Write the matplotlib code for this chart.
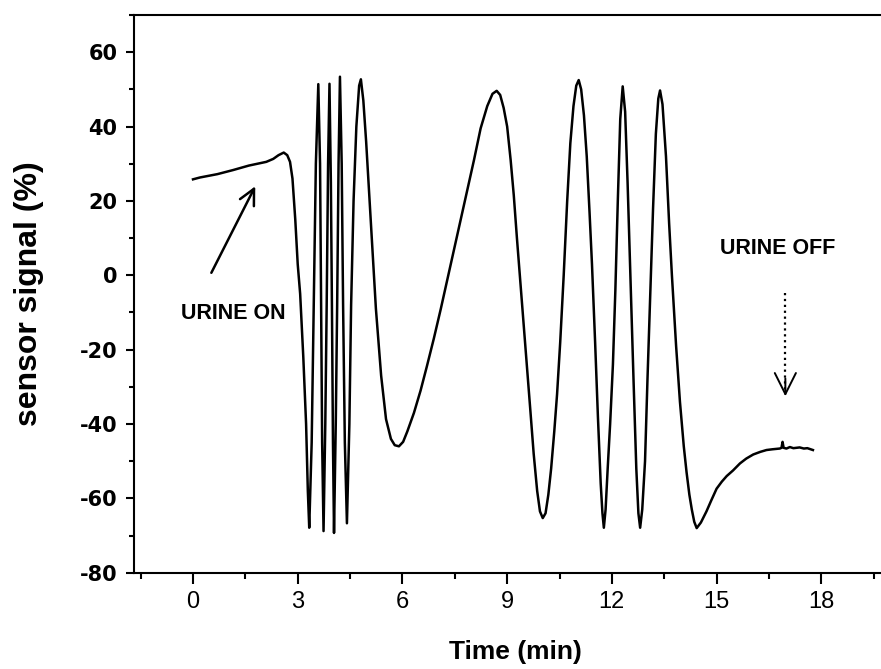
import matplotlib
matplotlib.use('Agg')
import matplotlib.pyplot as plt
from matplotlib.ticker import MultipleLocator

# sensor response (time in min, signal in %)
t = [0.0, 0.2, 0.7, 1.15, 1.6, 2.1, 2.3, 2.45, 2.6, 2.7, 2.78, 2.85, 2.93, 3.0, 3.07, 3.16, 3.24, 3.29, 3.33,
     3.40, 3.46, 3.52, 3.59, 3.64, 3.67, 3.70, 3.74, 3.79, 3.83, 3.87, 3.91, 3.95, 3.98, 4.01, 4.04,
     4.09, 4.13, 4.17, 4.21, 4.26, 4.30, 4.35, 4.41, 4.48, 4.53, 4.60, 4.68, 4.76, 4.81,
     4.88, 4.96, 5.1, 5.24, 5.39, 5.53, 5.67, 5.78, 5.9,
     6.02, 6.14, 6.33, 6.52, 6.7, 6.9, 7.1, 7.29, 7.48, 7.67, 7.86, 8.05, 8.24, 8.43, 8.58, 8.7,
     8.8, 8.9, 9.0, 9.1, 9.19, 9.28, 9.38, 9.48, 9.57, 9.67, 9.76, 9.86, 9.94, 10.02,
     10.1, 10.18, 10.26, 10.35, 10.43, 10.52, 10.62, 10.72, 10.81, 10.9, 10.98, 11.05,
     11.12, 11.2, 11.28, 11.36, 11.43, 11.52, 11.6, 11.68, 11.73, 11.77,
     11.82, 11.88, 11.95, 12.03, 12.1, 12.17, 12.24, 12.31,
     12.38, 12.45, 12.53, 12.62, 12.7, 12.76, 12.81,
     12.87, 12.95, 13.02, 13.1, 13.18, 13.26, 13.33, 13.38,
     13.45, 13.55, 13.64, 13.72, 13.84, 13.95, 14.06, 14.14, 14.22, 14.29, 14.36, 14.43,
     14.55, 14.71, 14.85, 15.0, 15.15, 15.29, 15.47, 15.67, 15.85, 16.05, 16.25, 16.43, 16.6,
     16.81, 16.86, 16.89, 16.92, 17.0, 17.1, 17.2, 17.38, 17.5, 17.6, 17.76]
signal = [25.8, 26.3, 27.2, 28.3, 29.5, 30.5, 31.3, 32.3, 33.0, 32.3, 30.5, 26.0, 15.0, 3.0, -5.0, -22.0, -40.0, -58.0, -67.9,
          -45.0, -8.0, 30.0, 51.4, 30.0, -8.0, -45.0, -68.8, -40.0, -8.0, 30.0, 51.5, 25.0, -8.0, -45.0, -69.3,
          -40.0, -8.0, 30.0, 53.4, 30.0, -8.0, -45.0, -66.7, -40.0, -8.0, 20.0, 40.0, 51.0, 52.7,
          47.0, 36.0, 13.5, -9.0, -27.0, -38.7, -44.0, -45.7, -46.0,
          -44.8, -42.0, -37.0, -31.0, -24.5, -17.0, -9.0, -1.0, 7.0, 15.0, 23.0, 31.0, 39.5, 45.5, 48.8, 49.6,
          48.5, 45.0, 40.0, 31.0, 21.5, 10.0, -2.0, -14.0, -25.0, -37.0, -48.0, -58.0, -63.5, -65.3,
          -64.0, -59.0, -52.0, -42.0, -32.0, -18.0, 0.0, 20.0, 35.5, 45.5, 51.0, 52.5,
          50.0, 43.0, 32.0, 17.0, 3.0, -18.0, -38.0, -56.0, -64.0, -67.9,
          -63.0, -52.0, -40.0, -24.0, -4.0, 20.0, 42.0, 50.8,
          44.0, 25.0, 0.0, -28.0, -52.0, -64.0, -67.9,
          -63.0, -50.0, -28.0, -5.0, 18.0, 38.0, 47.5, 49.7,
          46.0, 32.0, 14.0, 0.0, -19.0, -34.0, -46.0, -53.0, -59.0, -63.0, -66.3, -68.0,
          -66.5, -63.5, -60.5, -57.4, -55.5, -54.0, -52.5, -50.6, -49.3, -48.2, -47.5, -47.0, -46.8,
          -46.6, -46.4, -44.8, -46.4, -46.6, -46.2, -46.5, -46.3, -46.6, -46.5, -47.0]

x_ticks = [0, 3, 6, 9, 12, 15, 18]
y_ticks = [-80, -60, -40, -20, 0, 20, 40, 60]

plt.rcParams['axes.unicode_minus'] = False
plt.rcParams['font.family'] = ['Liberation Sans', 'DejaVu Sans']

fig = plt.figure(figsize=(8.81, 6.69), dpi=100)
ax = fig.add_axes([0.1521, 0.1439, 0.8479, 0.8337])

ax.plot(t, signal, color='black', linewidth=1.8)

ax.set_xlim(-1.69, 19.71)
ax.set_ylim(-80, 70)
ax.set_xticks(x_ticks)
ax.set_yticks(y_ticks)
ax.xaxis.set_minor_locator(MultipleLocator(1.5))
ax.yaxis.set_minor_locator(MultipleLocator(10))

ax.spines['right'].set_visible(False)
for s in ['left', 'bottom', 'top']:
    ax.spines[s].set_linewidth(1.5)
    ax.spines[s].set_capstyle('projecting')
ax.tick_params(axis='x', which='major', direction='out', length=8, width=1.5, labelsize=17, pad=5)
ax.tick_params(axis='x', which='minor', direction='out', length=4.5, width=1.5)
ax.tick_params(axis='y', which='major', direction='out', length=6, width=1.5, pad=6)
ax.tick_params(axis='y', which='minor', direction='out', length=3.5, width=1.5)
for lab in ax.get_yticklabels():
    lab.set_fontfamily('DejaVu Sans')
    lab.set_fontweight('bold')
    lab.set_fontsize(15)

ax.set_xlabel('Time (min)', fontsize=19, fontweight='bold')
ax.set_ylabel('sensor signal (%)', fontsize=23, fontweight='bold')
ax.xaxis.set_label_coords(0.511, -0.12)
ax.yaxis.set_label_coords(-0.12, 0.5)

# annotations
ax.annotate('', xy=(1.82, 24.6), xytext=(0.49, 0.0),
            arrowprops=dict(arrowstyle='->', color='black', lw=1.8, mutation_scale=28))
ax.text(1.15, -10.2, 'URINE ON', fontsize=15.5, fontweight='bold', ha='center', va='center')
ax.plot([16.97, 16.97], [-4.7, -31.0], color='black', lw=1.6, linestyle=':')
ax.annotate('', xy=(16.97, -33.3), xytext=(16.97, -27.0),
            arrowprops=dict(arrowstyle='->', color='black', lw=1.4, mutation_scale=38))
ax.text(16.76, 7.2, 'URINE OFF', fontsize=15.5, fontweight='bold', ha='center', va='center')

fig.savefig('out.png', dpi=100)
